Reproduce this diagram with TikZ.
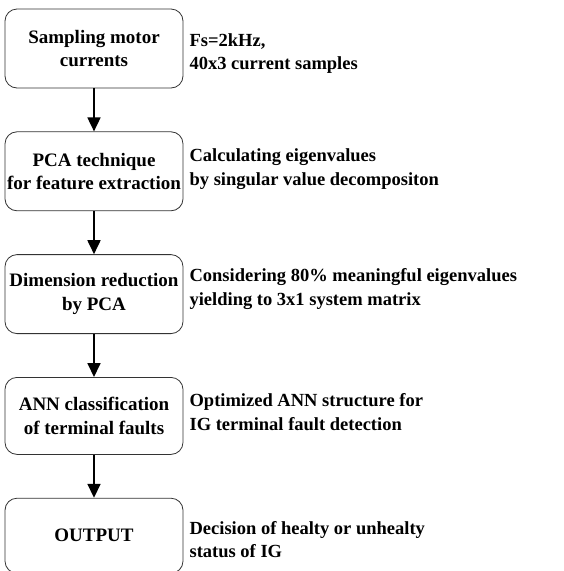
\documentclass[tikz,border=0pt]{standalone}
\usepackage{fontspec}
\setmainfont{Liberation Serif}
\usetikzlibrary{positioning, arrows.meta}

\tikzset{
  stagebox/.style={draw=black!80, line width=0.8pt, rounded corners=12pt,
    minimum width=178pt, minimum height=79pt, align=center, inner xsep=1pt,
    font=\fontsize{19}{23.5}\selectfont\bfseries},
  notetext/.style={align=left, anchor=west, inner xsep=2pt,
    font=\fontsize{18.5}{23.5}\selectfont\bfseries},
  flowarrow/.style={line width=1.8pt, -{Triangle[length=14pt, width=13pt]}}
}

\begin{document}
\begin{tikzpicture}[x=1pt, y=1pt, node distance=43pt]
  \useasboundingbox (0,0) rectangle (563,-571);

  % processing stages
  \node[stagebox] (sampling) at (94,-48.5) {Sampling motor\\currents};
  \node[stagebox, below=of sampling] (pca) {PCA technique\\for feature extraction};
  \node[stagebox, below=of pca] (reduce) {Dimension reduction\\by PCA};
  \node[stagebox, below=of reduce, minimum height=77pt] (ann) {ANN classification\\of terminal faults};
  \node[stagebox, below=of ann, minimum height=75pt] (output) {OUTPUT};

  % notes on the right
  \node[notetext] (n1) at ([xshift=4pt, yshift=-5pt]sampling.east) {Fs=2kHz,\\40x3 current samples};
  \node[notetext] (n2) at ([xshift=4pt, yshift=2pt]pca.east) {Calculating eigenvalues\\by singular value decompositon};
  \node[notetext] (n3) at ([xshift=4pt, yshift=5pt]reduce.east) {Considering 80\% meaningful eigenvalues\\yielding to 3x1 system matrix};
  \node[notetext] (n4) at ([xshift=4pt, yshift=4pt]ann.east) {Optimized ANN structure for\\IG terminal fault detection};
  \node[notetext] (n5) at ([xshift=4pt, yshift=-4pt]output.east) {Decision of healty or unhealty\\status of IG};

  % arrows
  \draw[flowarrow] (sampling) -- (pca);
  \draw[flowarrow] (pca) -- (reduce);
  \draw[flowarrow] (reduce) -- (ann);
  \draw[flowarrow] (ann) -- (output);
\end{tikzpicture}
\end{document}
